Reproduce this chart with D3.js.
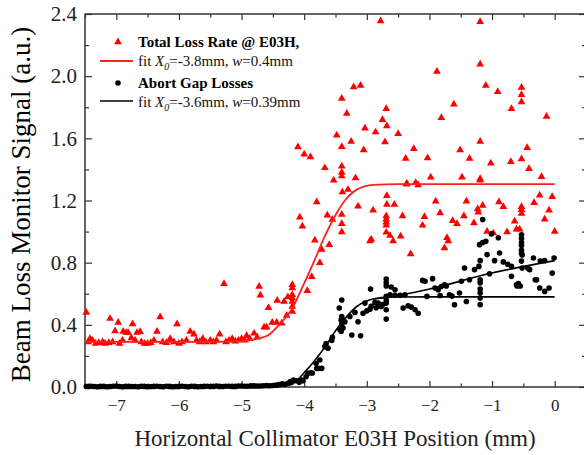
<!DOCTYPE html>
<html lang="en">
<head>
<meta charset="UTF-8">
<title>Beam Loss Monitor Signal vs Collimator Position</title>
<script src="https://cdnjs.cloudflare.com/ajax/libs/d3/7.8.5/d3.min.js"></script>
<style>
    body { margin: 0; background: #fff; }
    svg { display: block; font-family: "Liberation Serif", "Times New Roman", serif; }
    .tick line { stroke: #333; stroke-width: 1.2; }
    .tick text { fill: #222; }
</style>
</head>
<body>
<svg id="chart" width="584" height="455"></svg>
<script>
// Total loss rate @ E03H (red triangles) [position mm, signal a.u.]
const lossRate = [
    [-7.48,0.48],[-7.45,0.29],[-7.42,0.31],[-7.38,0.30],[-7.33,0.28],[-7.28,0.285],[-7.22,0.29],[-7.18,0.28],
    [-7.12,0.285],[-7.10,0.44],[-7.06,0.29],[-7.02,0.36],[-6.97,0.415],[-6.95,0.28],[-6.90,0.30],[-6.89,0.357],
    [-6.84,0.35],[-6.81,0.35],[-6.76,0.315],[-6.74,0.406],[-6.70,0.30],[-6.67,0.35],[-6.62,0.355],[-6.60,0.29],
    [-6.55,0.28],[-6.50,0.28],[-6.45,0.285],[-6.40,0.30],[-6.35,0.357],[-6.30,0.45],[-6.26,0.29],[-6.20,0.285],
    [-6.14,0.31],[-6.08,0.29],[-6.03,0.406],[-6.00,0.28],[-5.95,0.29],[-5.88,0.30],[-5.82,0.357],[-5.76,0.34],
    [-5.72,0.30],[-5.67,0.29],[-5.62,0.31],[-5.57,0.29],[-5.50,0.30],[-5.45,0.29],[-5.40,0.30],[-5.35,0.34],
    [-5.28,0.664],[-5.25,0.29],[-5.20,0.30],[-5.15,0.31],[-5.10,0.295],[-5.05,0.30],[-5.00,0.31],[-4.95,0.30],
    [-4.92,0.33],[-4.87,0.31],[-4.80,0.345],[-4.75,0.32],[-4.72,0.647],[-4.70,0.59],[-4.64,0.385],[-4.60,0.385],
    [-4.57,0.51],[-4.51,0.415],[-4.44,0.415],[-4.43,0.557],[-4.36,0.41],[-4.32,0.55],[-4.28,0.46],[-4.26,0.58],
    [-4.19,0.658],[-4.19,0.637],[-4.19,0.594],[-4.19,0.572],[-4.19,0.55],[-4.19,0.518],[-4.19,0.486],
    [-4.10,1.544],[-4.07,1.092],[-4.03,1.034],[-4.00,1.497],[-3.95,0.62],[-3.90,1.48],[-3.88,0.71],[-3.83,0.944],
    [-3.80,1.19],[-3.75,0.80],[-3.72,0.884],[-3.67,1.41],[-3.63,1.105],[-3.60,0.916],[-3.55,1.077],[-3.53,1.33],
    [-3.48,1.62],[-3.40,1.856],[-3.40,1.546],[-3.40,1.42],[-3.40,1.38],[-3.40,1.357],[-3.40,1.11],[-3.40,1.05],
    [-3.40,0.998],[-3.39,1.254],[-3.32,1.76],[-3.30,1.27],[-3.25,1.58],[-3.21,1.93],[-3.18,1.345],[-3.14,1.163],
    [-3.10,1.94],[-3.05,1.525],[-3.03,1.665],[-2.95,0.94],[-2.93,0.95],[-2.90,1.137],[-2.86,1.64],[-2.78,2.355],
    [-2.75,1.72],[-2.71,1.576],[-2.69,1.79],[-2.68,1.68],[-2.68,1.23],[-2.68,1.174],[-2.69,1.10],[-2.69,1.08],
    [-2.69,1.06],[-2.69,1.04],[-2.69,0.995],[-2.63,0.974],[-2.58,0.94],[-2.56,1.174],[-2.50,1.63],[-2.46,0.97],
    [-2.43,1.10],[-2.38,1.47],[-2.37,1.305],[-2.36,1.31],[-2.30,0.856],[-2.25,1.533],[-2.22,1.314],[-2.18,1.30],
    [-2.11,1.04],[-2.08,1.095],[-2.03,1.473],[-1.98,1.35],[-1.90,1.195],[-1.88,2.03],[-1.83,1.12],[-1.81,1.733],
    [-1.76,0.895],[-1.72,0.96],[-1.70,0.94],[-1.63,1.07],[-1.61,1.82],[-1.56,1.05],[-1.51,1.525],[-1.48,1.35],
    [-1.45,1.10],[-1.41,1.195],[-1.36,1.47],[-1.29,1.055],[-1.23,1.146],[-1.22,1.125],[-1.19,2.35],[-1.19,2.077],
    [-1.19,1.58],[-1.19,1.34],[-1.19,1.33],[-1.15,1.168],[-1.10,1.94],[-1.08,1.00],[-1.02,1.44],[-0.98,0.99],
    [-0.91,1.90],[-0.89,1.19],[-0.82,1.16],[-0.76,0.998],[-0.70,1.45],[-0.69,1.79],[-0.64,1.066],[-0.61,1.015],
    [-0.56,1.015],[-0.53,1.927],[-0.53,1.88],[-0.53,1.834],[-0.53,1.467],[-0.53,1.16],[-0.53,1.14],[-0.53,1.116],
    [-0.44,1.54],[-0.41,1.404],[-0.33,1.185],[-0.24,1.234],[-0.21,1.353],[-0.16,1.08],[-0.13,1.74],[-0.09,1.137],
    [-0.04,1.224],[0.00,1.00]
];

// Abort gap losses (black dots)
const abortGap = [
    [-7.48,0.003],[-7.44,0.004],[-7.40,0.005],[-7.35,0.003],[-7.30,0.002],[-7.25,0.004],[-7.20,0.004],[-7.15,0.002],
    [-7.10,0.003],[-7.05,0.005],[-7.00,0.006],[-6.95,0.003],[-6.90,0.002],[-6.85,0.004],[-6.80,0.004],[-6.75,0.003],
    [-6.70,0.003],[-6.65,0.002],[-6.60,0.005],[-6.55,0.004],[-6.50,0.002],[-6.45,0.003],[-6.40,0.004],[-6.35,0.005],
    [-6.30,0.003],[-6.25,0.002],[-6.20,0.005],[-6.15,0.004],[-6.10,0.002],[-6.05,0.003],[-6.00,0.004],[-5.95,0.005],
    [-5.90,0.003],[-5.85,0.002],[-5.80,0.005],[-5.75,0.004],[-5.70,0.002],[-5.65,0.003],[-5.60,0.004],[-5.55,0.005],
    [-5.50,0.003],[-5.45,0.004],[-5.40,0.006],[-5.35,0.004],[-5.30,0.003],[-5.25,0.005],[-5.20,0.005],[-5.15,0.004],
    [-5.10,0.004],[-5.05,0.006],[-5.00,0.006],[-4.95,0.005],[-4.90,0.005],[-4.85,0.007],[-4.80,0.007],[-4.75,0.006],
    [-4.70,0.006],[-4.65,0.008],[-4.60,0.009],[-4.55,0.008],
    [-4.50,0.01],[-4.45,0.012],[-4.40,0.015],[-4.35,0.02],[-4.30,0.018],[-4.25,0.025],[-4.22,0.035],[-4.20,0.03],
    [-4.17,0.045],[-4.12,0.04],[-4.08,0.03],[-4.04,0.045],[-4.02,0.04],[-3.97,0.066],[-3.94,0.088],[-3.90,0.092],
    [-3.87,0.09],[-3.81,0.153],[-3.80,0.12],[-3.77,0.12],[-3.75,0.174],[-3.72,0.12],[-3.67,0.26],[-3.65,0.28],
    [-3.62,0.25],[-3.56,0.30],[-3.55,0.32],[-3.43,0.37],[-3.41,0.357],[-3.40,0.40],[-3.38,0.38],[-3.40,0.454],
    [-3.40,0.44],[-3.41,0.43],[-3.44,0.508],[-3.40,0.56],[-3.35,0.42],[-3.27,0.454],[-3.24,0.335],[-3.19,0.48],
    [-3.14,0.42],[-3.10,0.33],[-3.06,0.475],[-3.03,0.54],[-3.00,0.49],[-2.95,0.50],[-2.93,0.52],[-2.94,0.63],
    [-2.87,0.544],[-2.85,0.51],[-2.82,0.54],[-2.79,0.53],[-2.77,0.518],[-2.75,0.53],[-2.69,0.695],[-2.69,0.67],
    [-2.69,0.65],[-2.69,0.583],[-2.69,0.56],[-2.69,0.54],[-2.69,0.497],[-2.69,0.437],[-2.61,0.643],[-2.55,0.626],
    [-2.63,0.594],[-2.55,0.59],[-2.47,0.59],[-2.39,0.594],[-2.42,0.508],[-2.34,0.523],[-2.29,0.514],[-2.23,0.497],
    [-2.18,0.475],[-2.11,0.686],[-2.07,0.68],[-1.95,0.697],[-2.04,0.583],[-1.91,0.637],[-1.86,0.626],[-1.81,0.647],
    [-1.76,0.658],[-1.73,0.65],[-1.83,0.589],[-1.68,0.594],[-1.64,0.585],[-1.60,0.529],[-1.52,0.605],[-1.49,0.68],
    [-1.44,0.766],[-1.41,0.55],[-1.36,0.69],[-1.28,0.755],[-1.21,0.776],[-1.19,0.69],[-1.19,0.67],[-1.19,0.63],
    [-1.19,0.605],[-1.19,0.572],[-1.19,0.53],[-1.19,0.813],[-1.20,0.916],[-1.15,0.93],[-1.10,0.937],[-1.15,1.077],
    [-1.08,0.852],[-1.04,0.729],[-1.01,0.985],[-0.90,0.96],[-0.96,0.813],[-0.88,0.862],[-0.82,0.805],[-0.75,0.79],
    [-0.69,0.776],[-0.69,0.712],[-0.61,0.658],[-0.58,0.665],[-0.55,0.65],[-0.60,0.65],[-0.53,0.98],[-0.53,0.955],
    [-0.53,0.93],[-0.53,0.91],[-0.53,0.88],[-0.53,0.86],[-0.52,0.85],[-0.53,0.81],[-0.52,0.766],[-0.43,0.766],
    [-0.40,0.755],[-0.34,0.83],[-0.29,0.69],[-0.31,0.69],[-0.23,0.81],[-0.16,0.813],[-0.24,0.637],[-0.16,0.615],
    [-0.09,0.637],[-0.04,0.733],[-0.01,0.83]
];

// fit curves
const fitLoss = [
    [-7.5,0.29],[-5.5,0.29],[-5.0,0.295],[-4.76,0.31],[-4.55,0.34],[-4.4,0.40],[-4.2,0.50],[-4.02,0.65],
    [-3.83,0.82],[-3.67,0.97],[-3.48,1.12],[-3.35,1.20],[-3.16,1.27],[-2.9,1.30],[-2.5,1.305],[0,1.305]
];
const fitAbort = [
    [-7.5,0.0],[-4.6,0.002],[-4.23,0.013],[-3.96,0.11],[-3.7,0.24],[-3.43,0.40],[-3.16,0.518],
    [-2.9,0.566],[-2.63,0.579],[-2.0,0.58],[0,0.58]
];
const fitAbortLin = [
    [-2.9,0.566],[-2.63,0.579],[-2.0,0.63],[-1.04,0.73],[0,0.813]
];

const xMajor = [-7, -6, -5, -4, -3, -2, -1, 0];
const xMinor = [-7.5, -6.5, -5.5, -4.5, -3.5, -2.5, -1.5, -0.5];
const yMajor = [0, 0.4, 0.8, 1.2, 1.6, 2.0, 2.4];
const yMinor = [0.2, 0.6, 1.0, 1.4, 1.8, 2.2];

const svg = d3.select("#chart");
const x = d3.scaleLinear().domain([-7.5, 0.5]).range([85, 586]);
const y = d3.scaleLinear().domain([0, 2.4]).range([387, 14]);

// axes (ticks point inward)
const bottom = svg.append("g").attr("transform", `translate(0,${y(0)})`)
    .call(d3.axisBottom(x).tickValues(xMajor).tickSize(-6).tickPadding(12).tickFormat(d3.format("d")));
svg.append("g").attr("transform", `translate(0,${y(0)})`)
    .call(d3.axisBottom(x).tickValues(xMinor).tickSize(-3.5).tickFormat(""));
svg.append("g").attr("transform", `translate(0,${y(2.4)})`)
    .call(d3.axisTop(x).tickValues(xMajor).tickSize(-6).tickFormat(""));
svg.append("g").attr("transform", `translate(0,${y(2.4)})`)
    .call(d3.axisTop(x).tickValues(xMinor).tickSize(-3.5).tickFormat(""));
const left = svg.append("g").attr("transform", `translate(${x(-7.5)},0)`)
    .call(d3.axisLeft(y).tickValues(yMajor).tickSize(-7).tickPadding(8).tickFormat(d3.format(".1f")));
svg.append("g").attr("transform", `translate(${x(-7.5)},0)`)
    .call(d3.axisLeft(y).tickValues(yMinor).tickSize(-4).tickFormat(""));
svg.append("g").attr("transform", `translate(${x(0.5)},0)`)
    .call(d3.axisRight(y).tickValues(yMajor).tickSize(-7).tickFormat(""));
svg.append("g").attr("transform", `translate(${x(0.5)},0)`)
    .call(d3.axisRight(y).tickValues(yMinor).tickSize(-4).tickFormat(""));
svg.selectAll(".domain").remove();
bottom.selectAll("text").style("font-size", "17px").style("font-family", "Liberation Serif");
left.selectAll("text").style("font-size", "21px").style("font-family", "Liberation Serif");

// frame
svg.append("rect")
    .attr("x", x(-7.5)).attr("y", y(2.4))
    .attr("width", x(0.5) - x(-7.5)).attr("height", y(0) - y(2.4))
    .attr("fill", "none").attr("stroke", "#333").attr("stroke-width", 1.5);

const line = d3.line().x(d => x(d[0])).y(d => y(d[1])).curve(d3.curveMonotoneX);
const tri = d3.symbol(d3.symbolTriangle).size(26);

// red series
svg.append("g").selectAll("path").data(lossRate).join("path")
    .attr("d", tri)
    .attr("transform", d => `translate(${x(d[0])},${y(d[1])})`)
    .attr("fill", "#ff0000");
svg.append("path").attr("d", line(fitLoss))
    .attr("fill", "none").attr("stroke", "#ff2020").attr("stroke-width", 1.8);

// black series
svg.append("g").selectAll("circle").data(abortGap).join("circle")
    .attr("cx", d => x(d[0])).attr("cy", d => y(d[1])).attr("r", 2.8)
    .attr("fill", "#000");
svg.append("path").attr("d", line(fitAbort))
    .attr("fill", "none").attr("stroke", "#000").attr("stroke-width", 1.6);
svg.append("path").attr("d", line(fitAbortLin))
    .attr("fill", "none").attr("stroke", "#000").attr("stroke-width", 1.6);

// legend
const lg = svg.append("g").style("font-size", "15px");
lg.append("path").attr("d", tri).attr("transform", "translate(118,42)").attr("fill", "#ff0000");
lg.append("text").attr("x", 138).attr("y", 47).style("font-weight", "bold").text("Total Loss Rate @ E03H,");
lg.append("line").attr("x1", 100).attr("x2", 133).attr("y1", 61).attr("y2", 61)
    .attr("stroke", "#ff2020").attr("stroke-width", 1.8);
lg.append("circle").attr("cx", 118).attr("cy", 83).attr("r", 2.8).attr("fill", "#000");
lg.append("text").attr("x", 138).attr("y", 88).style("font-weight", "bold").text("Abort Gap Losses");
lg.append("line").attr("x1", 100).attr("x2", 133).attr("y1", 101).attr("y2", 101)
    .attr("stroke", "#000").attr("stroke-width", 1.6);

function fitLabel(yPos, x0, w) {
    const t = lg.append("text").attr("x", 138).attr("y", yPos).attr("fill", "#111");
    t.append("tspan").text("fit ");
    t.append("tspan").style("font-style", "italic").text("X");
    t.append("tspan").style("font-style", "italic").style("font-size", "10px").attr("dy", 4).text("0");
    t.append("tspan").attr("dy", -4).text(`=${x0}mm, `);
    t.append("tspan").style("font-style", "italic").text("w");
    t.append("tspan").text(`=${w}mm`);
}
fitLabel(66, "-3.8", "0.4");
fitLabel(107, "-3.6", "0.39");

// axis titles
svg.append("text")
    .attr("transform", `translate(30,${(y(0) + y(2.4)) / 2 + 4}) rotate(-90)`)
    .attr("text-anchor", "middle").style("font-size", "27px").attr("fill", "#000")
    .text("Beam Loss Monitor Signal (a.u.)");
svg.append("text")
    .attr("x", 335).attr("y", 446)
    .attr("text-anchor", "middle").style("font-size", "23px").attr("fill", "#222")
    .text("Horizontal Collimator E03H Position (mm)");
</script>
</body>
</html>
